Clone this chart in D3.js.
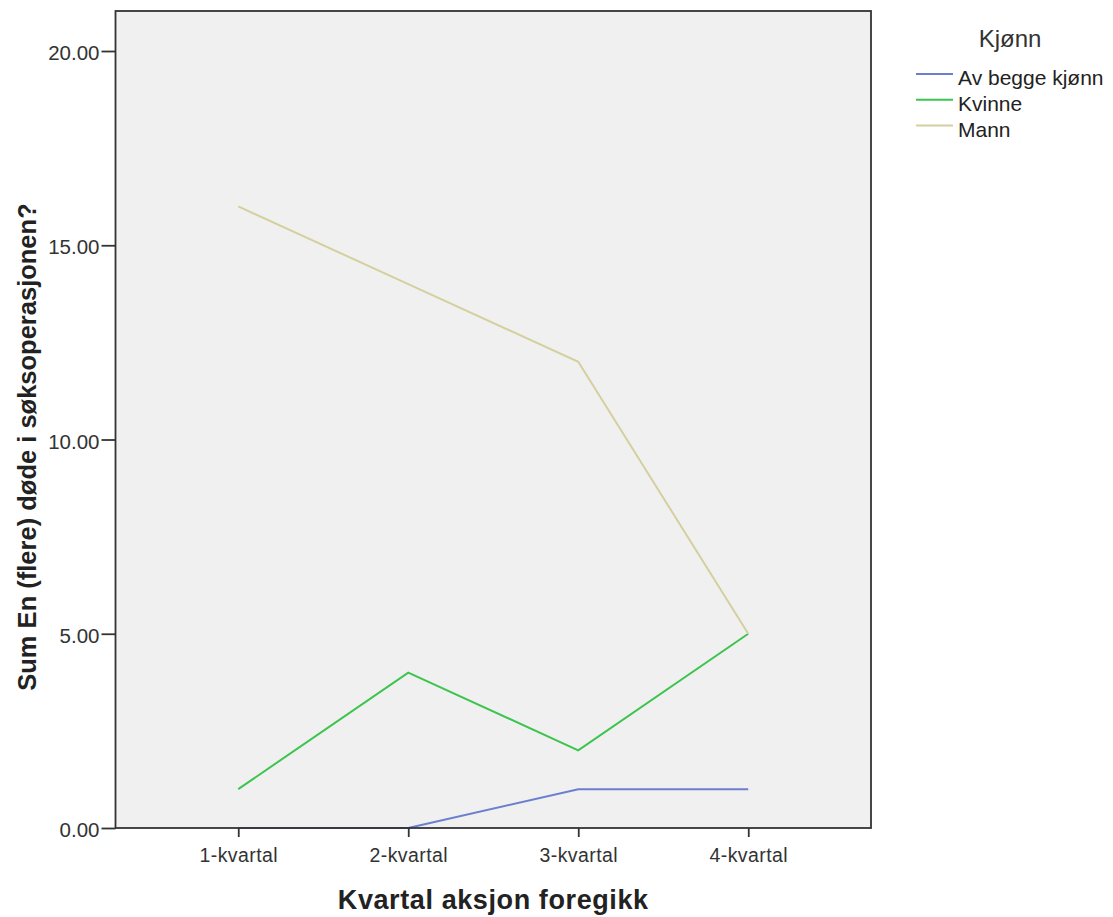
<!DOCTYPE html>
<html><head><meta charset="utf-8">
<script src="https://cdn.jsdelivr.net/npm/d3@7"></script>
<style>body{margin:0;background:#fff}svg{display:block}</style>
</head><body>
<svg id="c" width="1113" height="917" font-family="Liberation Sans, Arial, sans-serif"></svg>
<script>
const categories = ["1-kvartal","2-kvartal","3-kvartal","4-kvartal"];
const seriesNames = ["Av begge kjønn","Kvinne","Mann"];
const avBegge = [0,0,1,1];
const kvinne = [1,4,2,5];
const mann = [16,14,12,5];
const yTicks = [0,5,10,15,20];
const colors = ["#6b7fcd","#3cc44e","#d4d09e"];

const svg = d3.select("#c");
const L=115.5, R=871, T=11, B=828;
const x = d3.scalePoint().domain(categories).range([L,R]).padding(0.722);
const y = d3.scaleLinear().domain([0,21.03]).range([B,T]);

svg.append("rect").attr("x",L).attr("y",T).attr("width",R-L).attr("height",B-T).attr("fill","#f0f0f0");

const series = [avBegge,kvinne,mann];
const line = d3.line().x((d,i)=>x(categories[i])).y(d=>y(d));
series.forEach((s,k)=>{
  svg.append("path").attr("d",line(s)).attr("fill","none").attr("stroke",colors[k]).attr("stroke-width",2);
});

svg.append("rect").attr("x",L).attr("y",T).attr("width",R-L).attr("height",B-T).attr("fill","none").attr("stroke","#333").attr("stroke-width",1.8);

const yAxis = svg.append("g").attr("transform",`translate(${L},0)`)
  .call(d3.axisLeft(y).tickValues(yTicks).tickFormat(d3.format(".2f")).tickSize(14).tickPadding(2));
yAxis.select(".domain").remove();
yAxis.attr("font-family",null).attr("font-size",null);
yAxis.selectAll("line").attr("stroke","#333").attr("stroke-width",1.8);
yAxis.selectAll("text").attr("font-size",20.5).attr("fill","#333").attr("dy","0.42em");

const xAxis = svg.append("g").attr("transform",`translate(0,${B})`)
  .call(d3.axisBottom(x).tickSize(9).tickPadding(0));
xAxis.select(".domain").remove();
xAxis.attr("font-family",null).attr("font-size",null);
xAxis.selectAll("line").attr("stroke","#333").attr("stroke-width",1.8);
xAxis.selectAll("text").attr("font-size",19.5).attr("letter-spacing",0.4).attr("fill","#333").attr("dy",null).attr("y",34);

svg.append("text").attr("x",(L+R)/2).attr("y",909).attr("text-anchor","middle")
  .attr("font-size",27).attr("letter-spacing",0.6).attr("font-weight","bold").attr("fill","#222").text("Kvartal aksjon foregikk");
svg.append("text").attr("transform",`translate(36,447) rotate(-90)`).attr("text-anchor","middle")
  .attr("font-size",25.5).attr("font-weight","bold").attr("fill","#222").text("Sum En (flere) døde i søksoperasjonen?");

svg.append("text").attr("x",1010).attr("y",46.5).attr("text-anchor","middle").attr("font-size",24).attr("fill","#333").text("Kjønn");
seriesNames.forEach((n,i)=>{
  const yy = 74 + i*25.8;
  svg.append("line").attr("x1",916).attr("x2",953).attr("y1",yy).attr("y2",yy).attr("stroke",colors[i]).attr("stroke-width",2);
  svg.append("text").attr("x",958).attr("y",yy+11).attr("font-size",21).attr("fill","#222").text(n);
});
</script>
</body></html>
